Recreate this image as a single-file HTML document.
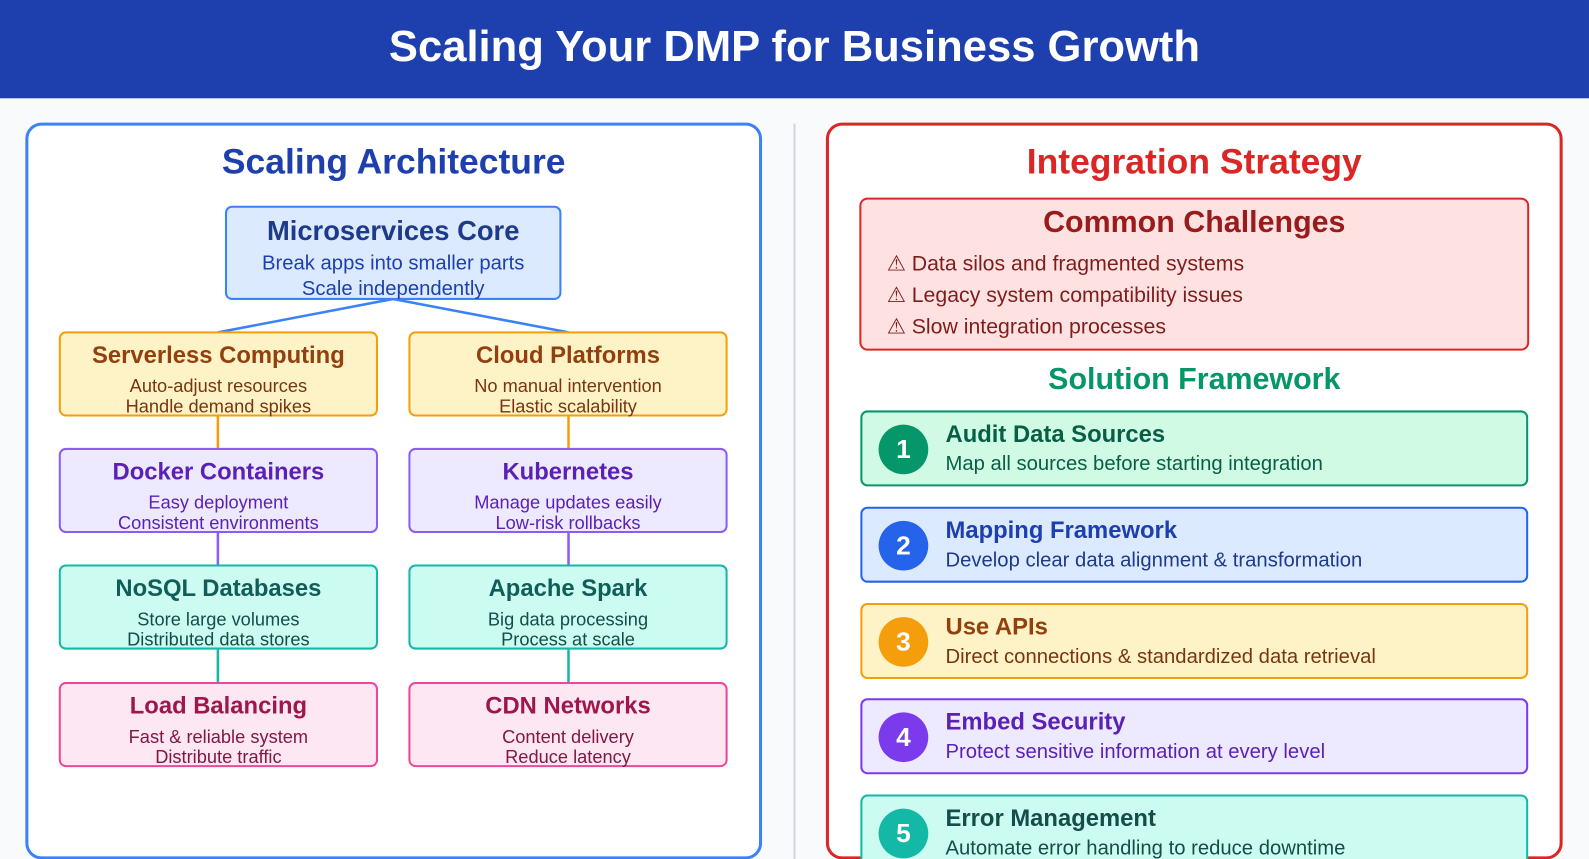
<!DOCTYPE html>
<html><head><meta charset="utf-8"><style>
*{margin:0;padding:0;box-sizing:border-box}
body{width:1589px;height:859px;background:#f8fafc;font-family:"Liberation Sans",sans-serif;position:relative;overflow:hidden}
#w{position:absolute;left:0;top:0;width:1568px;height:848px;transform:scale(1.01339);transform-origin:0 0;overflow:hidden}
.a{position:absolute}
.hdr{left:0;top:0;width:1568px;height:97px;background:#1e40af;color:#fff;font-weight:bold;font-size:43px;text-align:center;line-height:92px}
.panel{background:#fff;border:3px solid;border-radius:16px}
.node{border:2px solid;border-radius:7px;text-align:center}
.node b{display:block;font-size:23.5px;margin-top:8px}
.node span{display:block;font-size:18px;line-height:20px}
.c{text-align:center}
.step{left:849px;width:659px;height:75px;border:2px solid;border-radius:7px}
.step .n{position:absolute;left:16px;top:12px;width:49px;height:49px;border-radius:50%;color:#fff;font-weight:bold;font-size:26px;text-align:center;line-height:49px}
.step b{position:absolute;left:82px;top:8px;font-size:23.5px}
.step span{position:absolute;left:82px;top:40px;font-size:20px}
</style></head><body><div id="w">
<div class="a hdr">Scaling Your DMP for Business Growth</div>
<div class="a panel" style="left:25px;top:121px;width:727px;height:727px;border-color:#3b82f6"></div>
<div class="a" style="left:783px;top:122px;width:2px;height:726px;background:#d1d5db"></div>
<div class="a panel" style="left:815px;top:121px;width:727px;height:727px;border-color:#dc2626"></div>

<div class="a c" style="left:26px;width:725px;top:140px;font-size:35px;font-weight:bold;color:#1e40af">Scaling Architecture</div>
<svg class="a" style="left:0;top:0" width="760" height="859">
<g stroke="#3b82f6" stroke-width="2.5"><line x1="388" y1="295" x2="215" y2="328"/><line x1="388" y1="295" x2="561" y2="328"/></g>
<g stroke-width="2.5"><line x1="215" y1="410" x2="215" y2="443" stroke="#f59e0b"/><line x1="561" y1="410" x2="561" y2="443" stroke="#f59e0b"/>
<line x1="215" y1="526" x2="215" y2="558" stroke="#8b5cf6"/><line x1="561" y1="526" x2="561" y2="558" stroke="#8b5cf6"/>
<line x1="215" y1="641" x2="215" y2="674" stroke="#14b8a6"/><line x1="561" y1="641" x2="561" y2="674" stroke="#14b8a6"/></g>
</svg>
<div class="a node" style="left:222px;top:203px;width:332px;height:93px;background:#dbeafe;border-color:#3b82f6;color:#1e40af"><b style="font-size:27px;color:#1e3a8a;margin-top:8px">Microservices Core</b><span style="font-size:20px;line-height:25px;margin-top:4px">Break apps into smaller parts<br>Scale independently</span></div>

<div class="a node" style="left:58px;top:327px;width:315px;height:84px;background:#fef3c7;border-color:#f59e0b;color:#78350f"><b style="color:#92400e">Serverless Computing</b><span style="margin-top:7px">Auto-adjust resources<br>Handle demand spikes</span></div>
<div class="a node" style="left:403px;top:327px;width:315px;height:84px;background:#fef3c7;border-color:#f59e0b;color:#78350f"><b style="color:#92400e">Cloud Platforms</b><span style="margin-top:7px">No manual intervention<br>Elastic scalability</span></div>

<div class="a node" style="left:58px;top:442px;width:315px;height:84px;background:#ede9fe;border-color:#8b5cf6;color:#5b21b6"><b>Docker Containers</b><span style="margin-top:7px">Easy deployment<br>Consistent environments</span></div>
<div class="a node" style="left:403px;top:442px;width:315px;height:84px;background:#ede9fe;border-color:#8b5cf6;color:#5b21b6"><b>Kubernetes</b><span style="margin-top:7px">Manage updates easily<br>Low-risk rollbacks</span></div>

<div class="a node" style="left:58px;top:557px;width:315px;height:84px;background:#ccfbf1;border-color:#14b8a6;color:#134e4a"><b style="color:#115e59">NoSQL Databases</b><span style="margin-top:7px">Store large volumes<br>Distributed data stores</span></div>
<div class="a node" style="left:403px;top:557px;width:315px;height:84px;background:#ccfbf1;border-color:#14b8a6;color:#134e4a"><b style="color:#115e59">Apache Spark</b><span style="margin-top:7px">Big data processing<br>Process at scale</span></div>

<div class="a node" style="left:58px;top:673px;width:315px;height:84px;background:#fce7f3;border-color:#ec4899;color:#831843"><b style="color:#9d174d">Load Balancing</b><span style="margin-top:7px">Fast &amp; reliable system<br>Distribute traffic</span></div>
<div class="a node" style="left:403px;top:673px;width:315px;height:84px;background:#fce7f3;border-color:#ec4899;color:#831843"><b style="color:#9d174d">CDN Networks</b><span style="margin-top:7px">Content delivery<br>Reduce latency</span></div>

<div class="a c" style="left:816px;width:725px;top:140px;font-size:35px;font-weight:bold;color:#dc2626">Integration Strategy</div>
<div class="a" style="left:848px;top:195px;width:661px;height:151px;background:#fee2e2;border:2px solid #dc2626;border-radius:8px;color:#7f1d1d">
<div class="c" style="font-size:30px;font-weight:bold;color:#991b1b;margin-top:6px">Common Challenges</div>
<div style="position:absolute;left:25px;top:48px;font-size:21px;line-height:31px;color:#7f1d1d">⚠ Data silos and fragmented systems<br>⚠ Legacy system compatibility issues<br>⚠ Slow integration processes</div>
</div>
<div class="a c" style="left:816px;width:725px;top:358px;font-size:30px;font-weight:bold;color:#059669">Solution Framework</div>

<div class="a step" style="top:405px;background:#d1fae5;border-color:#059669;color:#065f46"><div class="n" style="background:#059669">1</div><b>Audit Data Sources</b><span>Map all sources before starting integration</span></div>
<div class="a step" style="top:500px;background:#dbeafe;border-color:#2563eb;color:#1e3a8a"><div class="n" style="background:#2563eb">2</div><b style="color:#1e40af">Mapping Framework</b><span>Develop clear data alignment &amp; transformation</span></div>
<div class="a step" style="top:595px;background:#fef3c7;border-color:#f59e0b;color:#78350f"><div class="n" style="background:#f59e0b">3</div><b style="color:#92400e">Use APIs</b><span>Direct connections &amp; standardized data retrieval</span></div>
<div class="a step" style="top:689px;background:#ede9fe;border-color:#7c3aed;color:#5b21b6"><div class="n" style="background:#7c3aed">4</div><b>Embed Security</b><span>Protect sensitive information at every level</span></div>
<div class="a step" style="top:784px;background:#ccfbf1;border-color:#14b8a6;color:#134e4a"><div class="n" style="background:#14b8a6">5</div><b>Error Management</b><span>Automate error handling to reduce downtime</span></div>
</div></body></html>
